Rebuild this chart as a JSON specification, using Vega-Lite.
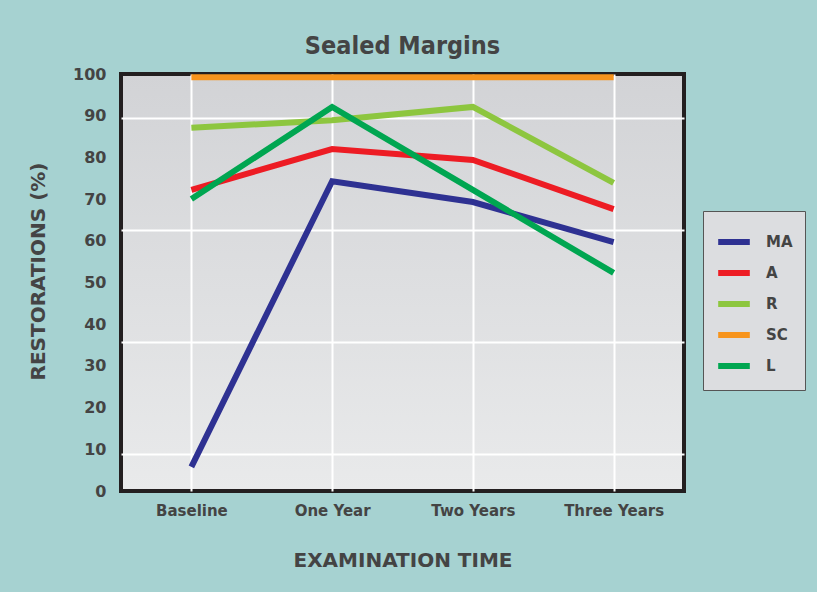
{
  "$schema": "https://vega.github.io/schema/vega-lite/v6.json",
  "width": 563,
  "height": 417,
  "autosize": {"type": "none"},
  "padding": {"left": 121, "top": 74, "right": 133, "bottom": 101},
  "background": "#a6d2d1",
  "title": {
    "text": "Sealed Margins",
    "font": "DejaVu Sans Condensed",
    "fontSize": 25,
    "fontWeight": "bold",
    "color": "#444444",
    "anchor": "middle",
    "offset": 6
  },
  "config": {
    "view": {
      "fill": {
        "gradient": "linear",
        "x1": 0, "y1": 0, "x2": 0, "y2": 1,
        "stops": [
          {"offset": 0, "color": "#d2d3d6"},
          {"offset": 1, "color": "#e9eaeb"}
        ]
      },
      "stroke": "#231f20",
      "strokeWidth": 4
    }
  },
  "data": {
    "values": [
      {"series": "MA", "time": "Baseline", "value": 5.8},
      {"series": "MA", "time": "One Year", "value": 74.3},
      {"series": "MA", "time": "Two Years", "value": 69.3},
      {"series": "MA", "time": "Three Years", "value": 59.7},
      {"series": "A", "time": "Baseline", "value": 72.2},
      {"series": "A", "time": "One Year", "value": 82.0},
      {"series": "A", "time": "Two Years", "value": 79.4},
      {"series": "A", "time": "Three Years", "value": 67.6},
      {"series": "R", "time": "Baseline", "value": 87.1},
      {"series": "R", "time": "One Year", "value": 88.9},
      {"series": "R", "time": "Two Years", "value": 92.1},
      {"series": "R", "time": "Three Years", "value": 73.9},
      {"series": "SC", "time": "Baseline", "value": 99.2},
      {"series": "SC", "time": "One Year", "value": 99.2},
      {"series": "SC", "time": "Two Years", "value": 99.2},
      {"series": "SC", "time": "Three Years", "value": 99.2},
      {"series": "L", "time": "Baseline", "value": 70.0},
      {"series": "L", "time": "One Year", "value": 92.1},
      {"series": "L", "time": "Two Years", "value": 72.2},
      {"series": "L", "time": "Three Years", "value": 52.3}
    ]
  },
  "mark": {"type": "line", "strokeWidth": 6, "strokeCap": "butt"},
  "encoding": {
    "x": {
      "field": "time",
      "type": "ordinal",
      "sort": ["Baseline", "One Year", "Two Years", "Three Years"],
      "scale": {"type": "point", "padding": 0.5},
      "axis": {
        "title": "EXAMINATION TIME",
        "titleFont": "DejaVu Sans",
        "titleFontSize": 20,
        "titleFontWeight": "bold",
        "titleColor": "#444444",
        "titlePadding": 32,
        "labelFont": "DejaVu Sans",
        "labelFontSize": 15,
        "labelFontWeight": "bold",
        "labelColor": "#444444",
        "labelPadding": 12,
        "labelAngle": 0,
        "domain": false,
        "ticks": false,
        "grid": true,
        "gridColor": "#ffffff",
        "gridWidth": 2,
        "gridOpacity": 1
      }
    },
    "y": {
      "field": "value",
      "type": "quantitative",
      "scale": {"domain": [0, 100], "nice": false},
      "axis": {
        "title": "RESTORATIONS (%)",
        "titleFont": "DejaVu Sans",
        "titleFontSize": 20,
        "titleFontWeight": "bold",
        "titleColor": "#444444",
        "titlePadding": 24,
        "titleY": 197,
        "values": [0, 8.9, 10, 20, 30, 35.7, 40, 50, 60, 62.6, 70, 80, 89.4, 90, 100],
        "labelExpr": "datum.value % 10 == 0 ? datum.label : ''",
        "labelOverlap": false,
        "labelFont": "DejaVu Sans",
        "labelFontSize": 16,
        "labelFontWeight": "bold",
        "labelColor": "#444444",
        "labelPadding": 15,
        "domain": false,
        "ticks": false,
        "grid": true,
        "gridColor": "#ffffff",
        "gridWidth": 2,
        "gridOpacity": {"condition": {"test": "datum.value % 10 != 0", "value": 1}, "value": 0}
      }
    },
    "color": {
      "field": "series",
      "type": "nominal",
      "scale": {
        "domain": ["MA", "A", "R", "SC", "L"],
        "range": ["#2e3192", "#ed1c24", "#8dc63f", "#f7941d", "#00a651"]
      },
      "legend": {
        "title": null,
        "orient": "none",
        "legendX": 582,
        "legendY": 137,
        "symbolType": "stroke",
        "symbolStrokeWidth": 6,
        "symbolSize": 1000,
        "rowPadding": 0,
        "labelOffset": 13,
        "labelFont": "DejaVu Sans",
        "labelFontSize": 15,
        "labelFontWeight": "bold",
        "labelColor": "#444444",
        "fillColor": "#dcdde0",
        "strokeColor": "#555555",
        "padding": 12,
        "labelExpr": "datum.label + '      '"
      }
    }
  }
}
